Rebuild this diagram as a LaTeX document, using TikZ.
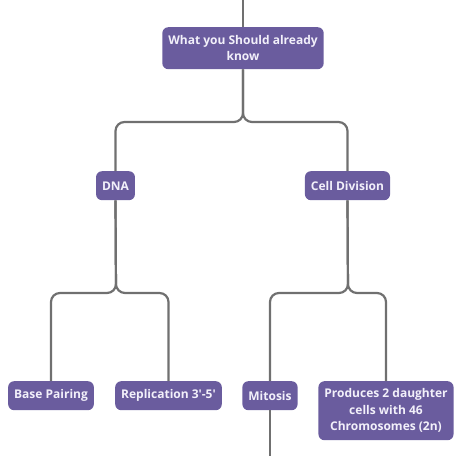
\documentclass[tikz,border=0pt]{standalone}
\usepackage{fontspec}
\usepackage{xcolor}
\usepackage{tikz}
\usetikzlibrary{positioning}

\newfontfamily\mapfont{Open Sans}
\definecolor{topicfill}{RGB}{106,92,158}
\definecolor{topictext}{RGB}{242,240,250}
\definecolor{linkgray}{RGB}{112,112,112}

\begin{document}
\begin{tikzpicture}[
  x=1pt, y=-1pt,
  topic/.style={fill=topicfill, text=topictext, rounded corners=6pt,
                minimum height=29pt, inner xsep=6pt, inner ysep=4pt,
                align=center, anchor=north,
                font=\mapfont\bfseries\fontsize{12}{16.5}\selectfont},
  link/.style={draw=linkgray, line width=2.2pt, rounded corners=9pt},
]
  \useasboundingbox (0,0) rectangle (466,456);

  \node[topic, minimum height=42pt] (root) at (243,27)
    {What you Should already\\know};
  \node[topic] (dna) at (115.5,171) {DNA};
  \node[topic] (celldiv) at (347.5,171) {Cell Division};
  \node[topic] (basepair) at (51,381) {Base Pairing};
  \node[topic] (replic) at (168.5,381) {Replication 3'-5'};
  \node[topic] (mitosis) at (270,381) {Mitosis};
  \node[topic, minimum height=59pt] (daughter) at (386,381)
    {Produces 2 daughter\\cells with 46\\Chromosomes (2n)};

  % free ends and junctions
  \coordinate (top) at (243,0);
  \coordinate (bottom) at (270,456);
  \coordinate (jroot) at (243,122);
  \coordinate (jdna) at (116,293);
  \coordinate (jcell) at (348,293);

  \draw[link] (top) -- (root.north);
  \draw[link] (root.south) -- (jroot) -| (dna.north);
  \draw[link] (root.south) -- (jroot) -| (celldiv.north);
  \draw[link] (dna.south) -- (jdna) -| (basepair.north);
  \draw[link] (dna.south) -- (jdna) -| (replic.north);
  \draw[link] (celldiv.south) -- (jcell) -| (mitosis.north);
  \draw[link] (celldiv.south) -- (jcell) -| (daughter.north);
  \draw[link] (mitosis.south) -- (bottom);
\end{tikzpicture}
\end{document}
